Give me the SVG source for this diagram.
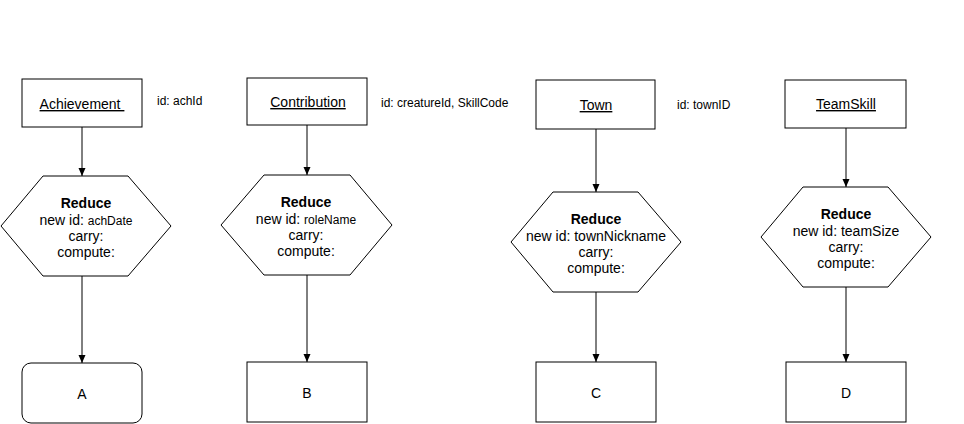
<svg xmlns="http://www.w3.org/2000/svg" width="964" height="424" viewBox="0 0 964 424">
<style>
.box{fill:#fff;stroke:#000;stroke-width:1}
.t{font-family:"Liberation Sans",Arial,sans-serif;font-size:14px;fill:#000;text-anchor:middle}
.u{text-decoration:underline;white-space:pre}
.b{font-weight:bold}
.s{font-size:12px}
.id{font-family:"Liberation Sans",Arial,sans-serif;font-size:12px;fill:#000}
.c{stroke:#000;stroke-width:1;fill:none;marker-end:url(#ah)}
</style>
<defs>
<marker id="ah" markerUnits="userSpaceOnUse" markerWidth="10" markerHeight="10" viewBox="0 0 10 10" refX="8" refY="5" orient="auto">
<path d="M0,1.5 L8,5 L0,8.5 Z" fill="#000"/>
</marker>
</defs>
<rect width="964" height="424" fill="#fff"/>
<g id="connectors">
<line class="c" x1="82" y1="127" x2="82" y2="176"/>
<line class="c" x1="82" y1="276" x2="82" y2="363"/>
<line class="c" x1="307" y1="125" x2="307" y2="175"/>
<line class="c" x1="307" y1="275" x2="307" y2="362"/>
<line class="c" x1="596" y1="129" x2="596" y2="192"/>
<line class="c" x1="596" y1="292" x2="596" y2="362"/>
<line class="c" x1="846" y1="128" x2="846" y2="187"/>
<line class="c" x1="846" y1="287" x2="846" y2="362"/>
</g>
<g id="achievement">
<rect class="box" x="22" y="79" width="120" height="48"/>
<text class="t u" x="82" y="109" xml:space="preserve">Achievement </text>
</g>
<text class="id" x="157" y="105">id: achId</text>
<g id="contribution">
<rect class="box" x="247" y="78" width="120" height="47"/>
<text class="t u" x="308" y="107">Contribution</text>
</g>
<text class="id" x="381" y="107">id: creatureId, SkillCode</text>
<g id="town">
<rect class="box" x="536" y="80" width="119" height="49"/>
<text class="t u" x="596" y="110">Town</text>
</g>
<text class="id" x="677" y="109">id: townID</text>
<g id="teamskill">
<rect class="box" x="785" y="80" width="121" height="48"/>
<text class="t u" x="846" y="109">TeamSkill</text>
</g>
<g id="reduce1">
<polygon class="box" points="1,226 43,176 128,176 171,226 128,276 43,276"/>
<text class="t b" x="86" y="208">Reduce</text>
<text class="t" x="86" y="225">new id: <tspan class="s">achDate</tspan></text>
<text class="t" x="86" y="241">carry:</text>
<text class="t" x="86" y="257">compute:</text>
</g>
<g id="reduce2">
<polygon class="box" points="221,225 264,175 350,175 392,225 350,275 264,275"/>
<text class="t b" x="306" y="207">Reduce</text>
<text class="t" x="306" y="224">new id: <tspan class="s">roleName</tspan></text>
<text class="t" x="306" y="240">carry:</text>
<text class="t" x="306" y="256">compute:</text>
</g>
<g id="reduce3">
<polygon class="box" points="511,242 553,192 638,192 681,242 638,292 553,292"/>
<text class="t b" x="596" y="224">Reduce</text>
<text class="t" x="596" y="241">new id: townNickname</text>
<text class="t" x="596" y="257">carry:</text>
<text class="t" x="596" y="273">compute:</text>
</g>
<g id="reduce4">
<polygon class="box" points="761,237 803,187 888,187 931,237 888,287 803,287"/>
<text class="t b" x="846" y="219">Reduce</text>
<text class="t" x="846" y="236">new id: teamSize</text>
<text class="t" x="846" y="252">carry:</text>
<text class="t" x="846" y="268">compute:</text>
</g>
<g id="a">
<rect class="box" x="22" y="363" width="120" height="60" rx="9" ry="9"/>
<text class="t" x="82" y="399">A</text>
</g>
<g id="b">
<rect class="box" x="247" y="362" width="120" height="60"/>
<text class="t" x="307" y="398">B</text>
</g>
<g id="c">
<rect class="box" x="536" y="362" width="120" height="60"/>
<text class="t" x="596" y="398">C</text>
</g>
<g id="d">
<rect class="box" x="786" y="362" width="120" height="60"/>
<text class="t" x="846" y="398">D</text>
</g>
</svg>
